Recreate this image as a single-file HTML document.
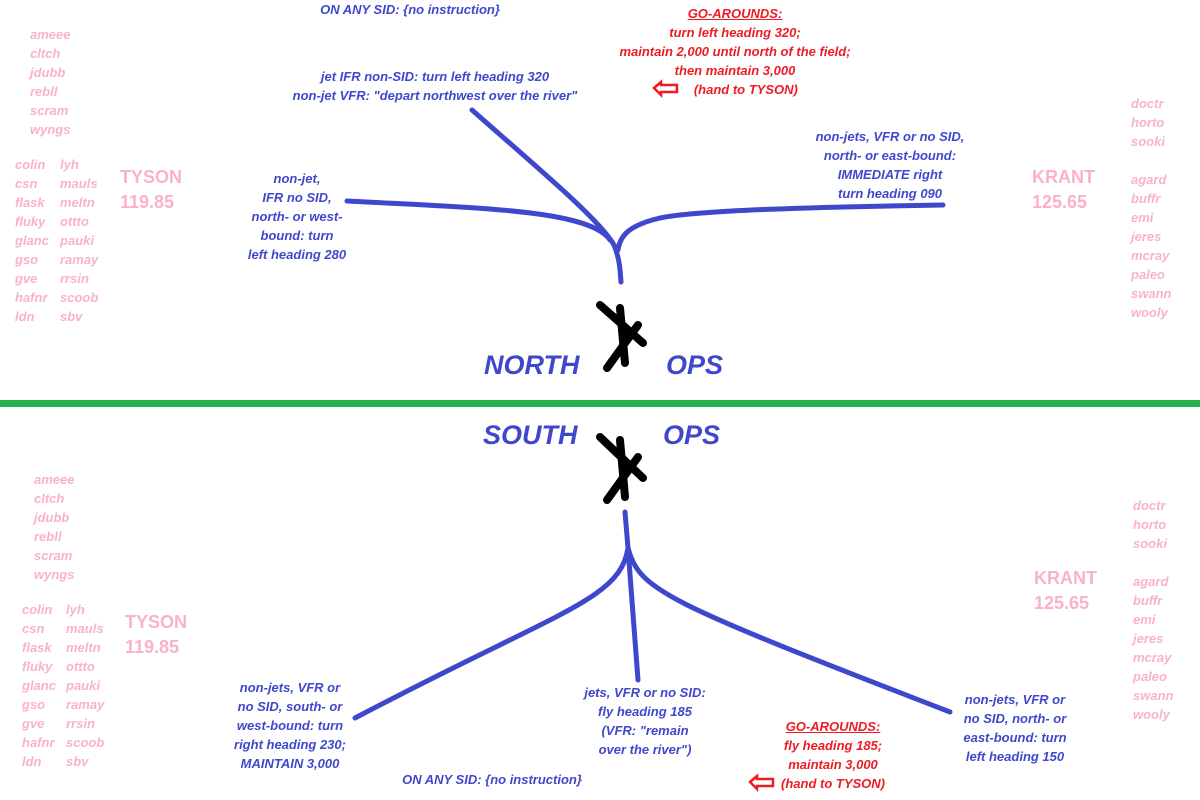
<!DOCTYPE html>
<html><head><meta charset="utf-8"><style>
body{margin:0;width:1200px;height:800px;background:#fff;position:relative;overflow:hidden;font-family:"Liberation Sans",sans-serif}
.t{position:absolute;font-style:italic;font-weight:bold;font-size:13px;line-height:19px;white-space:nowrap}
.b{color:#3f48cc;text-align:center}
.r{color:#ed1c24;text-align:center}
.p{color:#f9b2c8}
.f{position:absolute;color:#f9b2c8;font-weight:bold;font-size:18px;line-height:25px}
.big{position:absolute;color:#3f48cc;font-weight:bold;font-style:italic;font-size:27px}
u{text-decoration:underline}
</style></head><body>
<svg width="1200" height="800" style="position:absolute;left:0;top:0">
<rect x="0" y="400" width="1200" height="7" fill="#22b14c"/>
<g fill="none" stroke="#3f48cc" stroke-width="5" stroke-linecap="round">
<path d="M347,201 C480,208 590,210 610,240"/>
<path d="M472,110 C540,170 600,220 614,245 C620,260 620,270 621,282"/>
<path d="M943,205 C820,207 700,210 660,218 C630,225 620,235 618,250"/>
<path d="M625,512 L628,548 C620,600 560,610 355,718"/>
<path d="M628,548 L638,680"/>
<path d="M628,548 C640,590 660,600 950,712"/>
</g>
<g stroke="#000" stroke-width="8" stroke-linecap="round">
<line x1="600" y1="305" x2="643" y2="343"/><line x1="620" y1="308" x2="625" y2="363"/><line x1="607" y1="368" x2="638" y2="325"/>
<line x1="600" y1="437" x2="643" y2="478"/><line x1="620" y1="440" x2="625" y2="497"/><line x1="607" y1="500" x2="638" y2="457"/>
</g>
<g fill="#fff" stroke="#ed1c24" stroke-width="2.5">
<path d="M654,88 L661,82 L661,85 L677,85 L677,92 L661,92 L661,95 Z"/>
<path d="M750,782 L757,776 L757,779 L773,779 L773,786 L757,786 L757,789 Z"/>
</g>
</svg>

<div class="t b" style="left:260px;top:0;width:300px">ON ANY SID: {no instruction}</div>
<div class="t b" style="left:235px;top:67px;width:400px">jet IFR non-SID: turn left heading 320<br>non-jet VFR: "depart northwest over the river"</div>
<div class="t r" style="left:585px;top:4px;width:300px"><u>GO-AROUNDS:</u><br>turn left heading 320;<br>maintain 2,000 until north of the field;<br>then maintain 3,000<br>&nbsp;&nbsp;&nbsp;&nbsp;&nbsp;&nbsp;(hand to TYSON)</div>
<div class="t b" style="left:197px;top:169px;width:200px">non-jet,<br>IFR no SID,<br>north- or west-<br>bound: turn<br>left heading 280</div>
<div class="t b" style="left:790px;top:127px;width:200px">non-jets, VFR or no SID,<br>north- or east-bound:<br>IMMEDIATE right<br>turn heading 090</div>

<div class="t p" style="left:30px;top:25px">ameee<br>cltch<br>jdubb<br>rebll<br>scram<br>wyngs</div>
<div class="t p" style="left:15px;top:155px">colin<br>csn<br>flask<br>fluky<br>glanc<br>gso<br>gve<br>hafnr<br>ldn</div>
<div class="t p" style="left:60px;top:155px">lyh<br>mauls<br>meltn<br>ottto<br>pauki<br>ramay<br>rrsin<br>scoob<br>sbv</div>
<div class="f" style="left:120px;top:165px">TYSON<br>119.85</div>
<div class="f" style="left:1032px;top:165px">KRANT<br>125.65</div>
<div class="t p" style="left:1131px;top:94px">doctr<br>horto<br>sooki</div>
<div class="t p" style="left:1131px;top:170px">agard<br>buffr<br>emi<br>jeres<br>mcray<br>paleo<br>swann<br>wooly</div>

<div class="big" style="left:484px;top:350px">NORTH</div>
<div class="big" style="left:666px;top:350px">OPS</div>
<div class="big" style="left:483px;top:420px">SOUTH</div>
<div class="big" style="left:663px;top:420px">OPS</div>

<div class="t p" style="left:34px;top:470px">ameee<br>cltch<br>jdubb<br>rebll<br>scram<br>wyngs</div>
<div class="t p" style="left:22px;top:600px">colin<br>csn<br>flask<br>fluky<br>glanc<br>gso<br>gve<br>hafnr<br>ldn</div>
<div class="t p" style="left:66px;top:600px">lyh<br>mauls<br>meltn<br>ottto<br>pauki<br>ramay<br>rrsin<br>scoob<br>sbv</div>
<div class="f" style="left:125px;top:610px">TYSON<br>119.85</div>
<div class="f" style="left:1034px;top:566px">KRANT<br>125.65</div>
<div class="t p" style="left:1133px;top:496px">doctr<br>horto<br>sooki</div>
<div class="t p" style="left:1133px;top:572px">agard<br>buffr<br>emi<br>jeres<br>mcray<br>paleo<br>swann<br>wooly</div>

<div class="t b" style="left:190px;top:678px;width:200px">non-jets, VFR or<br>no SID, south- or<br>west-bound: turn<br>right heading 230;<br>MAINTAIN 3,000</div>
<div class="t b" style="left:545px;top:683px;width:200px">jets, VFR or no SID:<br>fly heading 185<br>(VFR: "remain<br>over the river")</div>
<div class="t b" style="left:915px;top:690px;width:200px">non-jets, VFR or<br>no SID, north- or<br>east-bound: turn<br>left heading 150</div>
<div class="t r" style="left:733px;top:717px;width:200px"><u>GO-AROUNDS:</u><br>fly heading 185;<br>maintain 3,000<br>(hand to TYSON)</div>
<div class="t b" style="left:342px;top:770px;width:300px">ON ANY SID: {no instruction}</div>
</body></html>
